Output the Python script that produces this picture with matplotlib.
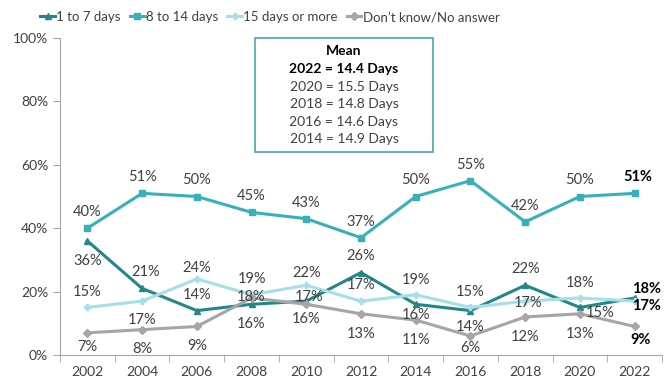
import numpy as np
import matplotlib.pyplot as plt

plt.rcParams['font.family'] = ['Lato', 'DejaVu Sans']

years = ['2002', '2004', '2006', '2008', '2010', '2012', '2014', '2016', '2018', '2020', '2022']
one_to_seven = [36, 21, 14, 16, 17, 26, 16, 14, 22, 15, 18]
eight_to_14 = [40, 51, 50, 45, 43, 37, 50, 55, 42, 50, 51]
fifteen_plus = [15, 17, 24, 19, 22, 17, 19, 15, 17, 18, 17]
dont_know = [7, 8, 9, 18, 16, 13, 11, 6, 12, 13, 9]

mean_lines = ['2022 = 14.4 Days', '2020 = 15.5 Days', '2018 = 14.8 Days',
              '2016 = 14.6 Days', '2014 = 14.9 Days']

# label offsets in pixels (dx, dy) for each point
off_1_7 = [(0, -20), (4, 16), (0, 16), (0, -20), (3, 4), (0, 17),
           (0, -11), (0, -16), (0, 16), (20, -6), (12, 9)]
off_8_14 = [(0, 16)] * 10 + [(3, 16)]
off_15 = [(0, 15), (0, -19), (0, 11), (0, 16), (0, 12), (0, 16),
          (0, 15), (0, 15), (3, -2), (0, 15), (12, -5)]
off_dk = [(0, -14), (0, -19), (0, -20), (0, 1), (0, -15), (0, -20),
          (0, -20), (0, -12), (0, -20), (0, -20), (6, -14)]

txt = '#404040'
series = [
    ('1 to 7 days', one_to_seven, '#23868a', '^', 5, off_1_7),
    ('8 to 14 days', eight_to_14, '#38b0bb', 's', 5, off_8_14),
    ('15 days or more', fifteen_plus, '#a6dfe7', 'P', 5, off_15),
    ('Don\u2019t know/No answer', dont_know, '#a6a6a6', 'D', 4, off_dk),
]

fig = plt.figure(figsize=(6.68, 3.83), dpi=100)
ax = fig.add_axes([60 / 668, 1 - 355 / 383, 602 / 668, 317 / 383])
x = np.arange(len(years))

for name, vals, col, mk, ms, offs in series:
    ax.plot(x, vals, color=col, lw=2.2, marker=mk, ms=ms, label=name)
    for i, v in enumerate(vals):
        bold = i == len(vals) - 1
        ax.annotate(f'{v}%', (x[i], v), xytext=offs[i], textcoords='offset pixels',
                    ha='center', va='center', fontsize=10.5, color='black' if bold else txt,
                    fontweight='bold' if bold else 'normal')

ax.set_xlim(-0.5, len(years) - 0.5)
ax.set_ylim(0, 100)
ax.set_yticks(range(0, 101, 20))
ax.set_yticklabels([f'{v}%' for v in range(0, 101, 20)], fontsize=10, color=txt)
ax.set_xticks(x)
ax.set_xticklabels(years, fontsize=10, color=txt)
ax.set_xticks(np.arange(-0.5, len(years), 1), minor=True)
ax.tick_params(axis='x', which='major', length=0, pad=8)
ax.tick_params(axis='x', which='minor', length=5, color='#a6a6a6')
ax.tick_params(axis='y', length=5, color='#a6a6a6')
for s in ['top', 'right']:
    ax.spines[s].set_visible(False)
for s in ['left', 'bottom']:
    ax.spines[s].set_color('#a6a6a6')

fig.legend(loc='center', bbox_to_anchor=(270 / 668, 1 - 17 / 383), ncol=4, frameon=False,
           fontsize=9.5, handlelength=1.1, handletextpad=0.1, columnspacing=0.7,
           borderpad=0.2, labelcolor=txt)

# mean box
box = plt.Rectangle((255 / 668, 1 - 152 / 383), 178 / 668, 114 / 383,
                    transform=fig.transFigure, fill=False, ec='#4aa8b0', lw=1.2)
fig.add_artist(box)
cx = 344 / 668
fig.text(cx, 1 - 51 / 383, 'Mean', ha='center', va='center', fontsize=10,
         fontweight='bold', color='black')
for k, line in enumerate(mean_lines):
    fig.text(cx, 1 - (69 + 17.6 * k) / 383, line, ha='center', va='center', fontsize=10,
             fontweight='bold' if k == 0 else 'normal',
             color='black' if k == 0 else txt)

fig.savefig('out.png', dpi=100)
